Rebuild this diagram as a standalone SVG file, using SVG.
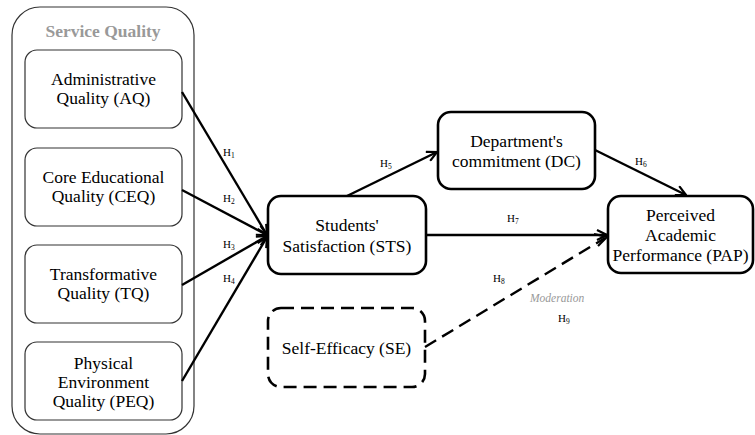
<svg xmlns="http://www.w3.org/2000/svg" width="755" height="435" viewBox="0 0 755 435" font-family="'Liberation Serif', 'Times New Roman', 'DejaVu Serif', serif">
<style>
.t{font-size:17.5px;text-anchor:middle}
.h{font-size:11px}
.s{font-size:7.5px}
.thin{fill:#fff;stroke:#333;stroke-width:1.2}
.thick{fill:#fff;stroke:#000;stroke-width:2.6}
.dash{fill:#fff;stroke:#000;stroke-width:2.6;stroke-dasharray:13 7}
.c{fill:none;stroke:#000;stroke-width:2.4;marker-end:url(#a)}
</style>
<defs>
<marker id="a" viewBox="0 0 12 12" refX="11" refY="6" markerWidth="5" markerHeight="5" orient="auto" markerUnits="strokeWidth">
<path d="M1,1 L11,6 L1,11" fill="none" stroke="#000" stroke-width="2.2"/>
</marker>
</defs>
<g id="service-quality">
<rect x="12" y="7" width="182" height="427" rx="28" fill="#fff" stroke="#333" stroke-width="1.2"/>
<text x="103" y="37" font-family="Liberation Serif" style="font-size:17.5px;font-weight:bold;text-anchor:middle;fill:#999">Service Quality</text>
</g>
<g id="AQ">
<rect class="thin" x="25" y="50" width="157" height="78" rx="12"/>
<text class="t" x="103.5" y="85">Administrative</text>
<text class="t" x="103.5" y="104">Quality (AQ)</text>
</g>
<g id="CEQ">
<rect class="thin" x="25" y="148" width="157" height="78" rx="12"/>
<text class="t" x="103.5" y="183">Core Educational</text>
<text class="t" x="103.5" y="202">Quality (CEQ)</text>
</g>
<g id="TQ">
<rect class="thin" x="25" y="245" width="157" height="78" rx="12"/>
<text class="t" x="103.5" y="280">Transformative</text>
<text class="t" x="103.5" y="299">Quality (TQ)</text>
</g>
<g id="PEQ">
<rect class="thin" x="25" y="342" width="157" height="78" rx="12"/>
<text class="t" x="103.5" y="369">Physical</text>
<text class="t" x="103.5" y="388">Environment</text>
<text class="t" x="103.5" y="407">Quality (PEQ)</text>
</g>
<g id="STS">
<rect class="thick" x="268" y="196" width="158" height="78" rx="13"/>
<text class="t" x="347" y="231">Students'</text>
<text class="t" x="347" y="252">Satisfaction (STS)</text>
</g>
<g id="DC">
<rect class="thick" x="438" y="112" width="157" height="77" rx="13"/>
<text class="t" x="516.5" y="147">Department's</text>
<text class="t" x="516.5" y="167">commitment (DC)</text>
</g>
<g id="PAP">
<rect class="thick" x="608" y="196" width="145" height="77" rx="13"/>
<text class="t" x="680.5" y="221">Perceived</text>
<text class="t" x="680.5" y="241">Academic</text>
<text class="t" x="680.5" y="261">Performance (PAP)</text>
</g>
<g id="SE">
<rect class="dash" x="268" y="308" width="157" height="79" rx="13"/>
<text class="t" x="346.5" y="354">Self-Efficacy (SE)</text>
</g>
<g id="connectors">
<line class="c" x1="182" y1="92" x2="267" y2="235"/>
<line class="c" x1="182" y1="190" x2="267" y2="235"/>
<line class="c" x1="182" y1="285" x2="267" y2="236"/>
<line class="c" x1="182" y1="381" x2="267" y2="237"/>
<line class="c" x1="347" y1="196" x2="437" y2="152"/>
<line class="c" x1="595" y1="150" x2="686" y2="195"/>
<line class="c" x1="426" y1="235" x2="607" y2="235"/>
<line x1="425" y1="347" x2="605" y2="238" stroke="#000" stroke-width="2.4" stroke-dasharray="13 7"/>
<path d="M594,234 L607,237 L598,246" fill="none" stroke="#000" stroke-width="2.2"/>
</g>
<g id="labels">
<text class="h" x="223" y="156">H<tspan class="s" dy="2">1</tspan></text>
<text class="h" x="223" y="202">H<tspan class="s" dy="2">2</tspan></text>
<text class="h" x="223" y="248">H<tspan class="s" dy="2">3</tspan></text>
<text class="h" x="223" y="282">H<tspan class="s" dy="2">4</tspan></text>
<text class="h" x="380" y="167">H<tspan class="s" dy="2">5</tspan></text>
<text class="h" x="635" y="165">H<tspan class="s" dy="2">6</tspan></text>
<text class="h" x="507" y="222">H<tspan class="s" dy="2">7</tspan></text>
<text class="h" x="493" y="282">H<tspan class="s" dy="2">8</tspan></text>
<text x="530" y="302" style="font-size:11.5px;font-style:italic;fill:#999">Moderation</text>
<text class="h" x="558" y="322">H<tspan class="s" dy="2">9</tspan></text>
</g>
</svg>
